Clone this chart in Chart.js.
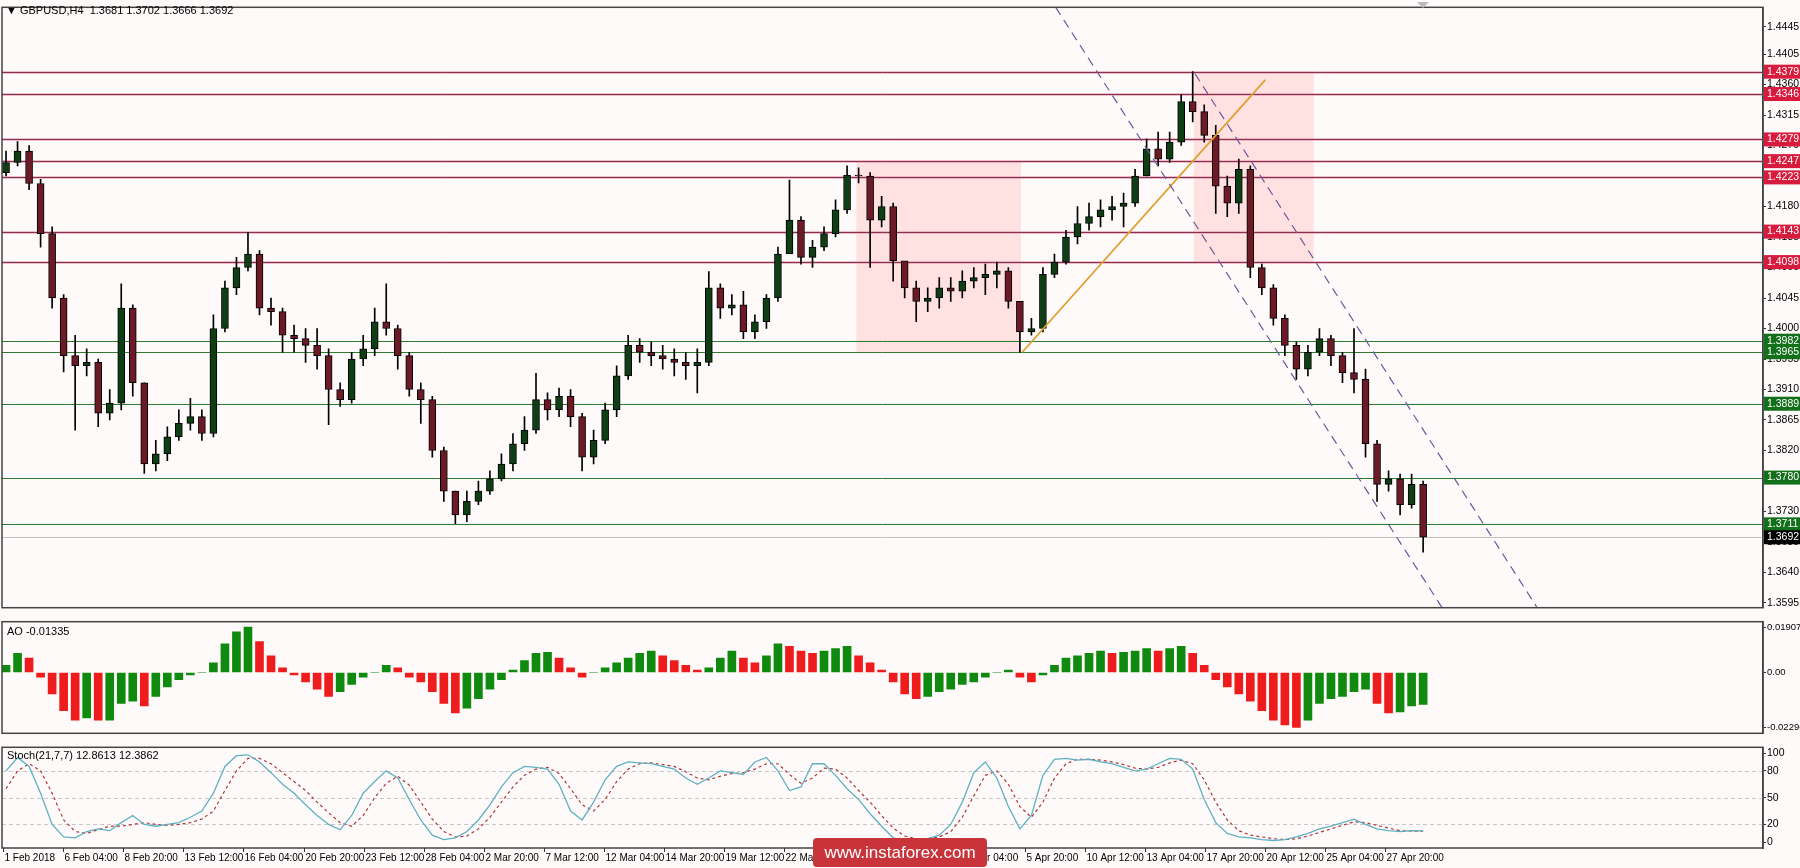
<!DOCTYPE html>
<html><head><meta charset="utf-8">
<script src="https://cdn.jsdelivr.net/npm/chart.js@4.4.1/dist/chart.umd.min.js"></script>
<style>
html,body{margin:0;padding:0;background:#fffafa;width:1800px;height:868px;overflow:hidden}
.p{position:absolute;left:0;width:1800px}
</style></head><body>
<div class="p" style="top:0;height:615px"><canvas id="main"></canvas></div>
<div class="p" style="top:615px;height:125px"><canvas id="ao"></canvas></div>
<div class="p" style="top:740px;height:128px"><canvas id="st"></canvas></div>
<script>
// ---- data ----
const firstOpen = 1.4230;
const closes = [1.4245,1.4262,1.4214,1.4140,1.4045,1.3960,1.3945,1.3950,1.3875,1.3890,1.4030,1.3920,1.3800,1.3815,1.3840,1.3860,1.3870,1.3845,1.4000,1.4060,
1.4090,1.4110,1.4030,1.4025,1.3990,1.3985,1.3975,1.3960,1.3910,1.3895,1.3955,1.3970,1.4010,1.4000,1.3960,1.3910,1.3895,1.3820,1.3760,1.3725,
1.3745,1.3760,1.3778,1.3800,1.3830,1.3850,1.3895,1.3880,1.3900,1.3870,1.3810,1.3835,1.3880,1.3930,1.3975,1.3965,1.3960,1.3955,1.3950,1.3945,
1.3950,1.4060,1.4030,1.4035,1.3995,1.4010,1.4045,1.4110,1.4160,1.4105,1.4120,1.4140,1.4175,1.4226,1.4225,1.4160,1.4180,1.4100,1.4060,1.4040,
1.4045,1.4060,1.4055,1.4070,1.4075,1.4080,1.4085,1.4040,1.3995,1.4000,1.4080,1.4098,1.4135,1.4155,1.4165,1.4175,1.4180,1.4185,1.4225,1.4265,
1.4250,1.4275,1.4335,1.4320,1.4285,1.4210,1.4185,1.4235,1.4090,1.4060,1.4015,1.3975,1.3940,1.3965,1.3985,1.3960,1.3935,1.3925,1.3830,1.3770,
1.3778,1.3740,1.3770,1.3692];
const highs = [1.4262,1.4276,1.4270,1.4220,1.4150,1.4050,1.3990,1.3970,1.3955,1.3910,1.4066,1.4035,1.3920,1.3835,1.3855,1.3880,1.3897,1.3880,1.4020,1.4070,
1.4105,1.4142,1.4115,1.4045,1.4030,1.4005,1.4000,1.4000,1.3970,1.3920,1.3965,1.3990,1.4030,1.4066,1.4005,1.3965,1.3920,1.3900,1.3825,1.3760,
1.3760,1.3775,1.3790,1.3815,1.3845,1.3870,1.3934,1.3905,1.3912,1.3910,1.3875,1.3850,1.3890,1.3945,1.3990,1.3985,1.3980,1.3975,1.3970,1.3965,
1.3970,1.4084,1.4066,1.4050,1.4055,1.4020,1.4050,1.4120,1.4219,1.4165,1.4130,1.4150,1.4190,1.4240,1.4237,1.4230,1.4195,1.4185,1.4090,1.4070,
1.4060,1.4075,1.4075,1.4085,1.4090,1.4095,1.4098,1.4090,1.4040,1.4015,1.4090,1.4110,1.4145,1.4180,1.4185,1.4190,1.4195,1.4200,1.4235,1.4280,
1.4290,1.4290,1.4345,1.4379,1.4330,1.4300,1.4225,1.4250,1.4240,1.4095,1.4065,1.4020,1.3980,1.3975,1.4000,1.3990,1.3965,1.4000,1.3940,1.3835,
1.3790,1.3785,1.3785,1.3775];
const lows = [1.4225,1.4240,1.4205,1.4120,1.4030,1.3936,1.3850,1.3930,1.3855,1.3865,1.3880,1.3900,1.3786,1.3790,1.3805,1.3835,1.3850,1.3835,1.3840,1.3995,
1.4050,1.4085,1.4020,1.4005,1.3965,1.3965,1.3950,1.3940,1.3858,1.3885,1.3890,1.3945,1.3960,1.3990,1.3940,1.3900,1.3860,1.3810,1.3745,1.3712,
1.3715,1.3740,1.3755,1.3775,1.3790,1.3820,1.3845,1.3865,1.3870,1.3855,1.3790,1.3800,1.3830,1.3870,1.3925,1.3950,1.3945,1.3940,1.3930,1.3925,
1.3905,1.3945,1.4015,1.4020,1.3985,1.3985,1.4000,1.4040,1.4130,1.4095,1.4090,1.4115,1.4135,1.4170,1.4215,1.4090,1.4150,1.4070,1.4045,1.4010,
1.4025,1.4030,1.4040,1.4045,1.4060,1.4050,1.4060,1.4030,1.3965,1.3990,1.3995,1.4075,1.4095,1.4125,1.4145,1.4150,1.4160,1.4150,1.4180,1.4225,
1.4240,1.4245,1.4270,1.4305,1.4275,1.4170,1.4165,1.4170,1.4075,1.4050,1.4005,1.3960,1.3925,1.3930,1.3960,1.3945,1.3920,1.3905,1.3810,1.3745,
1.3760,1.3725,1.3735,1.3670];
const aoValues = [0.003,0.008,0.006,-0.002,-0.009,-0.016,-0.020,-0.019,-0.020,-0.020,-0.013,-0.012,-0.014,-0.010,-0.006,-0.003,-0.001,0.000,0.004,0.012,
0.017,0.019,0.013,0.007,0.002,-0.001,-0.004,-0.007,-0.010,-0.008,-0.005,-0.002,0.000,0.003,0.002,-0.002,-0.004,-0.008,-0.013,-0.017,
-0.015,-0.011,-0.007,-0.003,0.001,0.005,0.008,0.0085,0.006,0.002,-0.002,0.000,0.002,0.004,0.006,0.008,0.009,0.007,0.005,0.003,
0.001,0.002,0.006,0.009,0.006,0.004,0.007,0.012,0.011,0.009,0.008,0.009,0.010,0.011,0.007,0.004,0.001,-0.004,-0.009,-0.011,
-0.010,-0.008,-0.007,-0.005,-0.004,-0.002,0.000,0.001,-0.002,-0.004,-0.001,0.003,0.006,0.007,0.008,0.009,0.008,0.0085,0.009,0.010,
0.009,0.010,0.011,0.008,0.003,-0.003,-0.006,-0.009,-0.012,-0.016,-0.020,-0.022,-0.023,-0.020,-0.013,-0.011,-0.010,-0.008,-0.007,-0.013,
-0.017,-0.0165,-0.014,-0.01335];
const stochMain = [80,95,85,55,20,6,5,12,15,13,22,30,20,18,20,22,28,35,55,85,
97,98,90,78,65,55,42,30,20,14,30,55,68,80,72,48,25,8,3,5,
12,25,42,62,78,85,84,82,65,35,25,45,70,85,90,89,88,85,82,72,
65,72,80,78,76,90,95,80,58,62,88,88,75,60,48,32,18,5,2,3,
4,8,20,45,78,90,72,40,15,30,75,93,94,92,93,90,88,84,80,82,
88,94,93,82,48,22,10,6,5,3,2,3,6,10,15,18,22,26,20,15,
13,12,13,12.86];
const stochSignal = [60,80,88,80,55,25,12,10,14,18,18,20,22,20,19,20,22,26,35,58,
80,94,94,88,78,68,58,45,33,22,18,30,50,66,74,64,45,26,12,6,
7,15,28,45,62,75,82,84,77,60,42,35,48,68,82,88,89,87,85,79,
72,70,74,77,78,82,88,88,76,66,72,83,82,72,58,45,30,16,7,4,
4,6,12,28,52,75,80,65,40,28,45,72,88,93,93,92,90,87,83,82,
84,89,92,88,70,45,25,13,8,6,4,3,4,7,11,15,19,23,22,19,
16,13,12.5,12.39];
const redLevels = [1.4379,1.4346,1.4279,1.4247,1.4223,1.4143,1.4098];
const greenLevels = [1.3982,1.3965,1.3889,1.3780,1.3711];
const currentPrice = 1.3692;
const priceTicks = [1.4445,1.4405,1.4360,1.4315,1.4270,1.4225,1.4180,1.4135,1.4090,1.4045,1.4000,1.3955,1.3910,1.3865,1.3820,1.3775,1.3730,1.3685,1.3640,1.3595];
const aoTicks = [0.01907,0,-0.02296];
const stochTicks = [0,20,50,80,100];
const dateLabels = ["1 Feb 2018","6 Feb 04:00","8 Feb 20:00","13 Feb 12:00","16 Feb 04:00","20 Feb 20:00","23 Feb 12:00","28 Feb 04:00","2 Mar 20:00","7 Mar 12:00","12 Mar 04:00","14 Mar 20:00","19 Mar 12:00","22 Mar 04:00","26 Mar 20:00","29 Mar 12:00","3 Apr 04:00","5 Apr 20:00","10 Apr 12:00","13 Apr 04:00","17 Apr 20:00","20 Apr 12:00","25 Apr 04:00","27 Apr 20:00"];
const dateTickStart = -0.26, dateTickStep = 5.217; // bar-index units
const zones = [[73.8,88.1,1.4247,1.3965],[103.1,113.5,1.4379,1.4098]];
const trendLine = [[88.2,1.3965],[109.3,1.4367]];
const channelLines = [[[91.1,1.4474],[124.65,1.3588]],[[103.2,1.4376],[132.9,1.3588]]];

const FONT = '"Liberation Sans", Arial, sans-serif';
const X_MIN = -0.35, X_MAX = 152.5, AXW = 37;
const opens = closes.map((c,i)=> i ? closes[i-1] : firstOpen);
const xScale = {type:'linear',min:X_MIN,max:X_MAX,display:false,offset:false};
function yAxis(min,max,ticks,fmt,fs){
  return {position:'right',min,max,
    afterBuildTicks:s=>{s.ticks=ticks.map(v=>({value:v}));},
    afterFit:s=>{s.width=AXW;},
    border:{display:true,color:'#333',width:1.5},
    grid:{drawOnChartArea:false,drawTicks:true,tickLength:3,color:'#333'},
    ticks:{font:{family:FONT,size:fs||10.5},color:'#000',padding:1,autoSkip:false,callback:fmt}};
}
const common = {responsive:true,maintainAspectRatio:false,animation:false,devicePixelRatio:1,
  plugins:{legend:{display:false},tooltip:{enabled:false}},events:[]};
function border(ch){const a=ch.chartArea,c=ch.ctx;c.save();c.strokeStyle='#444';c.lineWidth=1.5;c.strokeRect(a.left,a.top,a.right-a.left,a.bottom-a.top);c.restore();}

// ---- main chart ----
const mainPlugin = {id:'mainp',
  beforeDatasetsDraw(ch){
    const c=ch.ctx,a=ch.chartArea,x=ch.scales.x,y=ch.scales.y;
    c.save();c.beginPath();c.rect(a.left,a.top,a.right-a.left,a.bottom-a.top);c.clip();
    c.fillStyle='#ffe1e1';
    zones.forEach(z=>{const x0=x.getPixelForValue(z[0]),x1=x.getPixelForValue(z[1]),y0=y.getPixelForValue(z[2]),y1=y.getPixelForValue(z[3]);c.fillRect(x0,y0,x1-x0,y1-y0);});
    const hl=(v,col,w)=>{const py=Math.round(y.getPixelForValue(v))+0.5;c.strokeStyle=col;c.lineWidth=w;c.beginPath();c.moveTo(a.left,py);c.lineTo(a.right,py);c.stroke();};
    redLevels.forEach(v=>{hl(v,'rgba(220,150,170,0.6)',3);hl(v,'#8c3050',1);});
    greenLevels.forEach(v=>hl(v,'#2e7a2e',1));
    hl(currentPrice,'#c0c0c0',1);
    c.restore();
  },
  afterDatasetsDraw(ch){
    const c=ch.ctx,a=ch.chartArea,x=ch.scales.x,y=ch.scales.y;
    c.save();c.beginPath();c.rect(a.left,a.top,a.right-a.left,a.bottom-a.top);c.clip();
    const seg=(p,q)=>{c.beginPath();c.moveTo(x.getPixelForValue(p[0]),y.getPixelForValue(p[1]));c.lineTo(x.getPixelForValue(q[0]),y.getPixelForValue(q[1]));c.stroke();};
    c.strokeStyle='#e0a030';c.lineWidth=1.8;seg(trendLine[0],trendLine[1]);
    c.strokeStyle='#6a5a9a';c.lineWidth=1.2;c.setLineDash([9,6]);
    channelLines.forEach(l=>seg(l[0],l[1]));
    c.restore();
  },
  afterDraw(ch){
    border(ch);
    const c=ch.ctx,a=ch.chartArea,y=ch.scales.y;
    c.save();c.font='10.5px '+FONT;c.textBaseline='middle';
    const box=(v,bg)=>{const py=y.getPixelForValue(v);c.fillStyle=bg;c.fillRect(a.right+1,py-7,1800-a.right-1,14);c.fillStyle='#fff';c.fillText(v.toFixed(4),a.right+4,py);};
    redLevels.forEach(v=>box(v,'#d81a3c'));
    greenLevels.forEach(v=>box(v,'#13701a'));
    box(currentPrice,'#000');
    c.fillStyle='#000';c.font='11px '+FONT;c.fillText('\u25BC GBPUSD,H4  1.3681 1.3702 1.3666 1.3692',6,11);
    c.fillStyle='#bbb';c.beginPath();c.moveTo(1417,2);c.lineTo(1429,2);c.lineTo(1423,8);c.fill();
    c.restore();
  }};
new Chart(document.getElementById('main'),{type:'bar',
  data:{datasets:[
    {data:closes.map((c,i)=>({x:i,y:[lows[i],highs[i]]})),backgroundColor:'#000',barThickness:1,grouped:false,order:2},
    {data:closes.map((c,i)=>({x:i,y:[opens[i],c]})),backgroundColor:closes.map((c,i)=>c>=opens[i]?'#0f3d14':'#6b1a26'),
     borderColor:'#000',borderWidth:1,borderSkipped:false,barThickness:7,minBarLength:1,grouped:false,order:1}
  ]},
  options:{...common,layout:{padding:{left:2,top:0,bottom:1,right:0}},
    scales:{x:xScale,y:yAxis(1.3588,1.4474,priceTicks,v=>v.toFixed(4))}},
  plugins:[mainPlugin]});

// ---- AO ----
new Chart(document.getElementById('ao'),{type:'bar',
  data:{datasets:[{data:aoValues.map((v,i)=>({x:i,y:v})),
    backgroundColor:aoValues.map((v,i)=> i===0||v>=aoValues[i-1]?'#0f8a0f':'#ee1c1c'),barThickness:8}]},
  options:{...common,layout:{padding:{left:2,top:1,bottom:1,right:0}},
    scales:{x:xScale,y:yAxis(-0.0255,0.0213,aoTicks,v=>v===0?'0.00':v.toFixed(5),9.5)}},
  plugins:[{id:'aop',afterDraw(ch){border(ch);const c=ch.ctx;c.save();c.font='11px '+FONT;c.fillStyle='#000';c.textBaseline='middle';c.fillText('AO -0.01335',7,ch.chartArea.top+10);c.restore();}}]});

// ---- Stochastic ----
new Chart(document.getElementById('st'),{type:'line',
  data:{datasets:[
    {data:stochMain.map((v,i)=>({x:i,y:v})),borderColor:'#5fb0c2',borderWidth:1.3,pointRadius:0,tension:0},
    {data:stochSignal.map((v,i)=>({x:i,y:v})),borderColor:'#b03535',borderWidth:1.2,borderDash:[3,3],pointRadius:0,tension:0}
  ]},
  options:{...common,layout:{padding:{left:2,top:2,bottom:20,right:0}},
    scales:{x:xScale,y:yAxis(-6.4,106.4,stochTicks,v=>String(v))}},
  plugins:[{id:'stp',
    beforeDatasetsDraw(ch){const c=ch.ctx,a=ch.chartArea,y=ch.scales.y;c.save();c.strokeStyle='#c8c8c8';c.setLineDash([4,3]);c.lineWidth=1;
      [20,50,80].forEach(v=>{const py=Math.round(y.getPixelForValue(v))+0.5;c.beginPath();c.moveTo(a.left,py);c.lineTo(a.right,py);c.stroke();});c.restore();},
    afterDraw(ch){border(ch);const c=ch.ctx,a=ch.chartArea,x=ch.scales.x;c.save();
      c.font='11px '+FONT;c.fillStyle='#000';c.textBaseline='middle';
      c.fillText('Stoch(21,7,7) 12.8613 12.3862',7,a.top+9);
      c.font='10px '+FONT;
      c.strokeStyle='#333';c.lineWidth=1;
      dateLabels.forEach((t,k)=>{const px=Math.round(x.getPixelForValue(dateTickStart+k*dateTickStep))+0.5;
        c.beginPath();c.moveTo(px,a.bottom);c.lineTo(px,a.bottom+4);c.stroke();c.fillText(t,px+1,a.bottom+10);});
      c.fillStyle='#c8343a';c.beginPath();c.roundRect(813,a.bottom-10,174,29,4);c.fill();
      c.fillStyle='#fff';c.font='17px '+FONT;c.textAlign='center';c.fillText('www.instaforex.com',900,a.bottom+5);
      c.restore();}}]});
</script>
</body></html>
